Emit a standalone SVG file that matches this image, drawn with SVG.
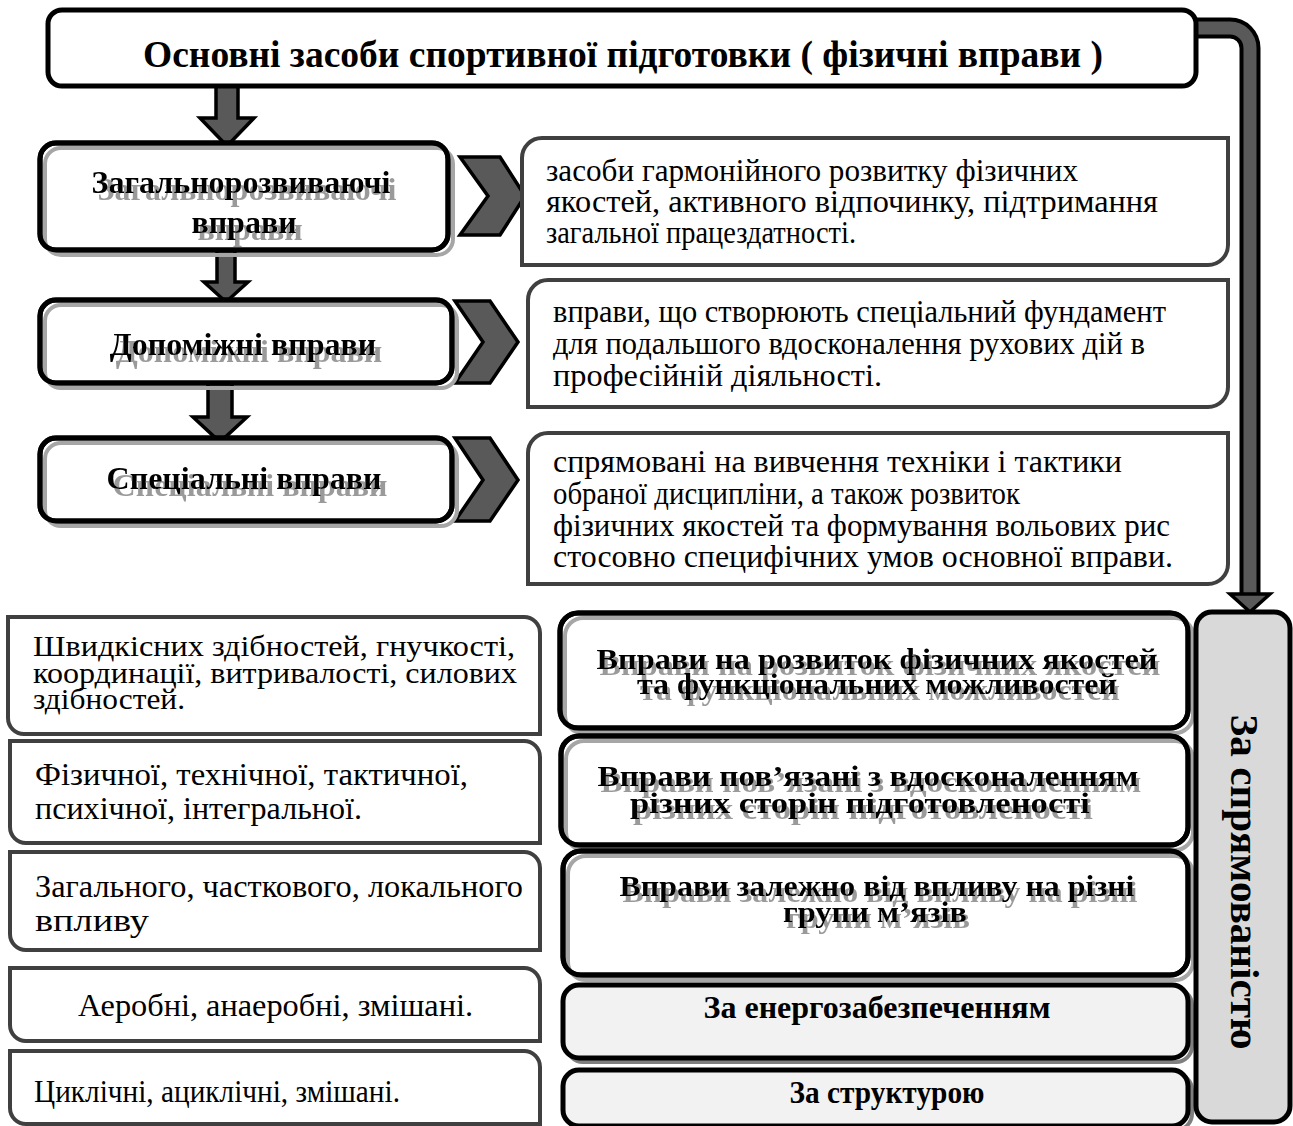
<svg xmlns="http://www.w3.org/2000/svg" width="1293" height="1126" viewBox="0 0 1293 1126">
  <defs>
    <!-- soft grey drop copy of the lettering, offset down-right -->
    <filter id="dropL" x="-5%" y="-30%" width="115%" height="180%">
      <feOffset in="SourceAlpha" dx="6" dy="7" result="o"/>
      <feGaussianBlur in="o" stdDeviation="0.6" result="b"/>
      <feFlood flood-color="#9a9a9a"/>
      <feComposite in2="b" operator="in" result="s"/>
      <feMerge><feMergeNode in="s"/><feMergeNode in="SourceGraphic"/></feMerge>
    </filter>
    <filter id="dropM" x="-5%" y="-30%" width="115%" height="180%">
      <feOffset in="SourceAlpha" dx="3" dy="6" result="o"/>
      <feGaussianBlur in="o" stdDeviation="0.6" result="b"/>
      <feFlood flood-color="#9a9a9a"/>
      <feComposite in2="b" operator="in" result="s"/>
      <feMerge><feMergeNode in="s"/><feMergeNode in="SourceGraphic"/></feMerge>
    </filter>
  </defs>
  <style>
    .t { font-family: "Liberation Serif", "Times New Roman", serif; fill: #000; }
    .b { font-weight: bold; }
    .c { text-anchor: middle; }
    .shL { filter: url(#dropL); }
    .shM { filter: url(#dropM); }
    .box { fill: #fff; stroke: #000; stroke-width: 5; }
    .boxg { fill: #f2f2f2; stroke: #000; stroke-width: 5; }
    .edge { fill: none; stroke: #000; stroke-width: 5; }
    .ghost { fill: none; stroke: #a6a6a6; stroke-width: 4; }
    .ghostd { fill: none; stroke: #7f7f7f; stroke-width: 4; }
    .desc { fill: #fff; stroke: #404040; stroke-width: 4; }
    .arr { fill: #595959; stroke: #000; stroke-width: 3.5; stroke-linejoin: miter; }
  </style>

  <!-- connectors: block arrows, chevrons and the elbow to the side column -->
  <g id="connectors">
    <polygon class="arr" points="216,84 238,84 238,118 254,118 227,146 200,118 216,118"/>
    <polygon class="arr" points="217,250 235,250 235,282 248,282 226,302 204,282 217,282"/>
    <polygon class="arr" points="208,383 232,383 232,417 247,417 220,442 193,417 208,417"/>
    <polygon class="arr" points="460,157 500,157 525,196 500,235 460,235 488,196"/>
    <polygon class="arr" points="455,301 490,301 518,342 490,383 455,383 483,342"/>
    <polygon class="arr" points="455,438 490,438 518,480 490,521 455,521 483,480"/>
    <path d="M1190,28 H1230 A20 20 0 0 1 1250,48 V598" fill="none" stroke="#000" stroke-width="21"/>
    <path d="M1190,28 H1230 A20 20 0 0 1 1250,48 V598" fill="none" stroke="#595959" stroke-width="13"/>
    <polygon class="arr" points="1230,594 1270,594 1250,612"/>
  </g>

  <!-- title -->
  <g id="title">
    <rect class="box" x="48" y="10" width="1148" height="76" rx="14"/>
    <text class="t b c" x="623" y="67" font-size="37" textLength="960" lengthAdjust="spacingAndGlyphs">Основні засоби спортивної підготовки ( фізичні вправи )</text>
  </g>

  <!-- left column of exercise kinds -->
  <g id="n-general">
    <rect class="box" x="40" y="143" width="408" height="107" rx="16"/>
    <rect class="ghost" x="45" y="148" width="408" height="107" rx="16"/>
    <rect class="edge" x="40" y="143" width="408" height="107" rx="16"/>
    <text class="t b c shL" x="241" y="193" font-size="32">Загальнорозвиваючі</text>
    <text class="t b c shL" x="244" y="233" font-size="32">вправи</text>
  </g>
  <g id="n-auxiliary">
    <rect class="box" x="40" y="300" width="412" height="83" rx="16"/>
    <rect class="ghost" x="45" y="305" width="412" height="83" rx="16"/>
    <rect class="edge" x="40" y="300" width="412" height="83" rx="16"/>
    <text class="t b c shL" x="243" y="355" font-size="32">Допоміжні вправи</text>
  </g>
  <g id="n-special">
    <rect class="box" x="40" y="438" width="412" height="83" rx="16"/>
    <rect class="ghost" x="45" y="443" width="412" height="83" rx="16"/>
    <rect class="edge" x="40" y="438" width="412" height="83" rx="16"/>
    <text class="t b c shL" x="244" y="489" font-size="32">Спеціальні вправи</text>
  </g>

  <!-- descriptions -->
  <g id="d-general">
    <path class="desc" d="M522,158 A20 20 0 0 1 542,138 H1228 V245 A20 20 0 0 1 1208,265 H522 Z"/>
    <text class="t" x="546" y="181" font-size="31" textLength="532" lengthAdjust="spacingAndGlyphs">засоби гармонійного розвитку фізичних</text>
    <text class="t" x="546" y="212" font-size="31" textLength="612" lengthAdjust="spacingAndGlyphs">якостей, активного відпочинку, підтримання</text>
    <text class="t" x="546" y="243" font-size="31" textLength="310" lengthAdjust="spacingAndGlyphs">загальної працездатності.</text>
  </g>
  <g id="d-auxiliary">
    <path class="desc" d="M528,300 A20 20 0 0 1 548,280 H1228 V387 A20 20 0 0 1 1208,407 H528 Z"/>
    <text class="t" x="553" y="322" font-size="31" textLength="613" lengthAdjust="spacingAndGlyphs">вправи, що створюють спеціальний фундамент</text>
    <text class="t" x="553" y="354" font-size="31" textLength="592" lengthAdjust="spacingAndGlyphs">для подальшого вдосконалення рухових дій в</text>
    <text class="t" x="553" y="386" font-size="31" textLength="329" lengthAdjust="spacingAndGlyphs">професійній діяльності.</text>
  </g>
  <g id="d-special">
    <path class="desc" d="M528,453 A20 20 0 0 1 548,433 H1228 V564 A20 20 0 0 1 1208,584 H528 Z"/>
    <text class="t" x="553" y="472" font-size="31" textLength="569" lengthAdjust="spacingAndGlyphs">спрямовані на вивчення техніки і тактики</text>
    <text class="t" x="553" y="504" font-size="31" textLength="467" lengthAdjust="spacingAndGlyphs">обраної дисципліни, а також розвиток</text>
    <text class="t" x="553" y="536" font-size="31" textLength="617" lengthAdjust="spacingAndGlyphs">фізичних якостей та формування вольових рис</text>
    <text class="t" x="553" y="567" font-size="31" textLength="620" lengthAdjust="spacingAndGlyphs">стосовно специфічних умов основної вправи.</text>
  </g>

  <!-- lower left: subtypes -->
  <g id="l-qualities">
    <path class="desc" d="M8,617 H524 A16 16 0 0 1 540,633 V734 H24 A16 16 0 0 1 8,718 Z"/>
    <text class="t" x="33" y="656" font-size="29" textLength="482" lengthAdjust="spacingAndGlyphs">Швидкісних здібностей, гнучкості,</text>
    <text class="t" x="33" y="683" font-size="29" textLength="484" lengthAdjust="spacingAndGlyphs">координації, витривалості, силових</text>
    <text class="t" x="33" y="709" font-size="29" textLength="152" lengthAdjust="spacingAndGlyphs">здібностей.</text>
  </g>
  <g id="l-sides">
    <path class="desc" d="M10,741 H524 A16 16 0 0 1 540,757 V843 H26 A16 16 0 0 1 10,827 Z"/>
    <text class="t" x="35" y="785" font-size="31" textLength="433" lengthAdjust="spacingAndGlyphs">Фізичної, технічної, тактичної,</text>
    <text class="t" x="35" y="819" font-size="31" textLength="327" lengthAdjust="spacingAndGlyphs">психічної, інтегральної.</text>
  </g>
  <g id="l-muscles">
    <path class="desc" d="M10,852 H524 A16 16 0 0 1 540,868 V950 H26 A16 16 0 0 1 10,934 Z"/>
    <text class="t" x="35" y="897" font-size="31" textLength="488" lengthAdjust="spacingAndGlyphs">Загального, часткового, локального</text>
    <text class="t" x="35" y="931" font-size="31" textLength="114" lengthAdjust="spacingAndGlyphs">впливу</text>
  </g>
  <g id="l-energy">
    <path class="desc" d="M10,968 H524 A16 16 0 0 1 540,984 V1041 H26 A16 16 0 0 1 10,1025 Z"/>
    <text class="t" x="78" y="1016" font-size="31" textLength="395" lengthAdjust="spacingAndGlyphs">Аеробні, анаеробні, змішані.</text>
  </g>
  <g id="l-structure">
    <path class="desc" d="M10,1051 H524 A16 16 0 0 1 540,1067 V1124 H26 A16 16 0 0 1 10,1108 Z"/>
    <text class="t" x="34" y="1102" font-size="31" textLength="366" lengthAdjust="spacingAndGlyphs">Циклічні, ациклічні, змішані.</text>
  </g>

  <!-- lower middle: classification groups -->
  <g id="m-qualities">
    <rect class="box" x="560" y="613" width="628" height="115" rx="18"/>
    <rect class="ghost" x="565" y="618" width="628" height="115" rx="18"/>
    <rect class="edge" x="560" y="613" width="628" height="115" rx="18"/>
    <text class="t b c shM" x="877" y="669" font-size="30" textLength="561" lengthAdjust="spacingAndGlyphs">Вправи на розвиток фізичних якостей</text>
    <text class="t b c shM" x="877" y="694" font-size="30" textLength="480" lengthAdjust="spacingAndGlyphs">та функціональних можливостей</text>
  </g>
  <g id="m-sides">
    <rect class="box" x="561" y="736" width="627" height="109" rx="18"/>
    <rect class="ghost" x="566" y="741" width="627" height="109" rx="18"/>
    <rect class="edge" x="561" y="736" width="627" height="109" rx="18"/>
    <text class="t b c shM" x="868" y="786" font-size="30" textLength="541" lengthAdjust="spacingAndGlyphs">Вправи пов’язані з вдосконаленням</text>
    <text class="t b c shM" x="860" y="813" font-size="30" textLength="460" lengthAdjust="spacingAndGlyphs">різних сторін підготовленості</text>
  </g>
  <g id="m-muscles">
    <rect class="box" x="563" y="851" width="625" height="124" rx="18"/>
    <rect class="ghost" x="568" y="856" width="625" height="124" rx="18"/>
    <rect class="edge" x="563" y="851" width="625" height="124" rx="18"/>
    <text class="t b c shM" x="877" y="896" font-size="30" textLength="515" lengthAdjust="spacingAndGlyphs">Вправи залежно від впливу на рiзні</text>
    <text class="t b c shM" x="875" y="922" font-size="30" textLength="184" lengthAdjust="spacingAndGlyphs">групи м’язів</text>
  </g>
  <g id="m-energy">
    <rect class="ghostd" x="567" y="989" width="625" height="73" rx="16"/>
    <rect class="boxg" x="563" y="985" width="625" height="73" rx="16"/>
    <text class="t b c" x="877" y="1018" font-size="32">За енергозабезпеченням</text>
  </g>
  <g id="m-structure">
    <rect class="ghostd" x="567" y="1074" width="625" height="56" rx="16"/>
    <rect class="boxg" x="563" y="1070" width="625" height="56" rx="16"/>
    <text class="t b c" x="887" y="1103" font-size="32" textLength="195" lengthAdjust="spacingAndGlyphs">За структурою</text>
  </g>

  <!-- side column -->
  <g id="direction">
    <rect x="1196" y="612" width="94" height="510" rx="16" fill="#d9d9d9" stroke="#000" stroke-width="5"/>
    <text class="t b c" transform="translate(1231,882) rotate(90)" font-size="40" textLength="335" lengthAdjust="spacingAndGlyphs">За спрямованістю</text>
  </g>
</svg>
